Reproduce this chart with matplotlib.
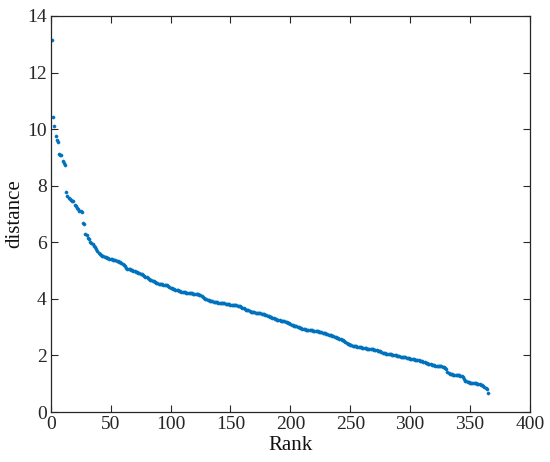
import matplotlib
matplotlib.use("Agg")
import matplotlib.pyplot as plt
import numpy as np

distance = [
    13.14, 10.43, 10.12, 9.77, 9.62, 9.53, 9.12, 9.10, 9.08, 8.86,
    8.80, 8.74, 7.77, 7.62, 7.57, 7.53, 7.50, 7.47, 7.45, 7.33,
    7.28, 7.22, 7.16, 7.12, 7.10, 7.08, 6.69, 6.66, 6.30, 6.24,
    6.16, 6.10, 6.02, 5.97, 5.93, 5.88, 5.83, 5.76, 5.69, 5.62,
    5.57, 5.54, 5.52, 5.50, 5.48, 5.47, 5.45, 5.44, 5.42, 5.41,
    5.40, 5.39, 5.37, 5.36, 5.35, 5.33, 5.31, 5.30, 5.28, 5.24,
    5.21, 5.15, 5.10, 5.07, 5.05, 5.04, 5.03, 5.01, 5.00, 4.98,
    4.96, 4.95, 4.93, 4.91, 4.89, 4.87, 4.85, 4.82, 4.79, 4.77,
    4.74, 4.71, 4.68, 4.66, 4.64, 4.62, 4.59, 4.57, 4.55, 4.54,
    4.53, 4.52, 4.51, 4.50, 4.49, 4.48, 4.48, 4.45, 4.42, 4.40,
    4.38, 4.36, 4.35, 4.33, 4.32, 4.30, 4.29, 4.27, 4.26, 4.25,
    4.24, 4.23, 4.22, 4.21, 4.20, 4.20, 4.19, 4.19, 4.18, 4.18,
    4.17, 4.17, 4.16, 4.15, 4.12, 4.09, 4.06, 4.03, 4.01, 3.99,
    3.97, 3.95, 3.93, 3.92, 3.91, 3.90, 3.89, 3.89, 3.88, 3.87,
    3.87, 3.86, 3.85, 3.84, 3.84, 3.83, 3.83, 3.82, 3.81, 3.80,
    3.80, 3.79, 3.78, 3.77, 3.77, 3.76, 3.75, 3.73, 3.70, 3.67,
    3.66, 3.64, 3.62, 3.61, 3.59, 3.57, 3.55, 3.54, 3.53, 3.52,
    3.51, 3.51, 3.50, 3.50, 3.49, 3.48, 3.47, 3.46, 3.44, 3.42,
    3.40, 3.38, 3.36, 3.35, 3.33, 3.31, 3.30, 3.28, 3.27, 3.25,
    3.24, 3.23, 3.22, 3.21, 3.20, 3.19, 3.18, 3.16, 3.13, 3.10,
    3.08, 3.07, 3.05, 3.04, 3.03, 3.01, 2.99, 2.97, 2.96, 2.94,
    2.93, 2.92, 2.91, 2.91, 2.90, 2.90, 2.89, 2.89, 2.88, 2.87,
    2.87, 2.86, 2.85, 2.84, 2.83, 2.82, 2.80, 2.79, 2.78, 2.77,
    2.75, 2.74, 2.72, 2.71, 2.69, 2.68, 2.66, 2.64, 2.62, 2.60,
    2.58, 2.57, 2.55, 2.54, 2.51, 2.48, 2.45, 2.42, 2.39, 2.37,
    2.36, 2.35, 2.34, 2.33, 2.32, 2.31, 2.31, 2.30, 2.29, 2.27,
    2.26, 2.25, 2.25, 2.24, 2.24, 2.23, 2.22, 2.22, 2.21, 2.20,
    2.19, 2.18, 2.16, 2.15, 2.14, 2.12, 2.10, 2.08, 2.07, 2.06,
    2.06, 2.05, 2.05, 2.04, 2.03, 2.02, 2.01, 2.00, 1.98, 1.97,
    1.97, 1.96, 1.95, 1.94, 1.93, 1.93, 1.92, 1.91, 1.90, 1.89,
    1.88, 1.87, 1.86, 1.85, 1.85, 1.84, 1.83, 1.82, 1.81, 1.80,
    1.78, 1.76, 1.74, 1.72, 1.70, 1.69, 1.68, 1.67, 1.66, 1.65,
    1.64, 1.63, 1.63, 1.62, 1.62, 1.61, 1.60, 1.58, 1.56, 1.52,
    1.42, 1.38, 1.36, 1.34, 1.33, 1.32, 1.31, 1.31, 1.30, 1.30,
    1.30, 1.29, 1.27, 1.25, 1.16, 1.10, 1.08, 1.06, 1.05, 1.03,
    1.03, 1.02, 1.02, 1.01, 1.01, 1.00, 0.99, 0.98, 0.97, 0.95,
    0.93, 0.90, 0.86, 0.80, 0.66,
]
rank = list(range(1, len(distance) + 1))

x_ticks = [0, 50, 100, 150, 200, 250, 300, 350, 400]
y_ticks = [0, 2, 4, 6, 8, 10, 12, 14]

plt.rcParams['font.family'] = ['Liberation Serif', 'DejaVu Serif']

fig = plt.figure(figsize=(5.5, 4.62), dpi=100)
ax = fig.add_axes([0.0922, 0.1082, 0.8714, 0.8572])
ax.plot(rank, distance, linestyle='none', marker='o', markersize=2.3,
        markerfacecolor='#0072BD', markeredgecolor='#0072BD', markeredgewidth=0.3)

ax.set_xlim(0, 400)
ax.set_ylim(0, 14)
ax.set_xticks(x_ticks)
ax.set_yticks(y_ticks)
ax.tick_params(direction='in', top=True, right=True, length=5, width=0.8,
               labelsize=14, colors='#262626', pad=3)
for sp in ax.spines.values():
    sp.set_linewidth(0.9)
    sp.set_color('#262626')

ax.set_xlabel('Rank', fontsize=15, labelpad=2, color='#111111')
ax.set_ylabel('distance', fontsize=15, labelpad=2, color='#111111')

fig.savefig('out.png', dpi=100)
